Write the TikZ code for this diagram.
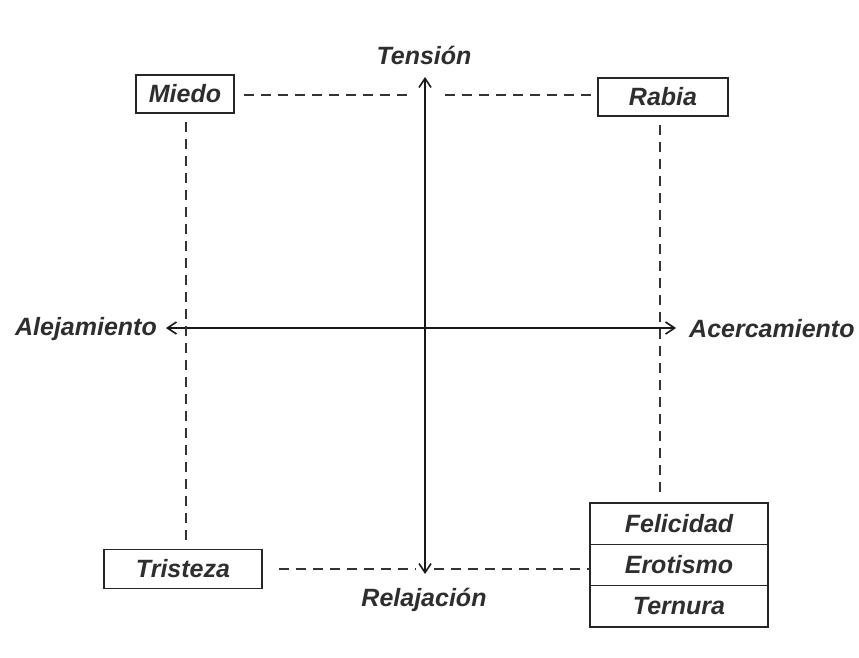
\documentclass[tikz,border=0pt]{standalone}
\usepackage{fontspec}
\setmainfont{Liberation Sans}
\usetikzlibrary{arrows.meta}
\tikzset{
  lbl/.style={font=\fontsize{25}{29}\selectfont\bfseries\itshape, text=black!82, inner sep=0pt},
  emobox/.style={lbl, draw=black!85, line width=1.6pt, inner sep=0pt, minimum height=38pt},
  stackrow/.style={emobox, outer sep=0pt, minimum width=178pt, minimum height=41.3pt},
  dline/.style={draw=black!80, line width=1.3pt, dash pattern=on 10pt off 7pt},
  axis/.style={draw=black!90, line width=1.5pt, {Straight Barb[length=9pt,width=12pt,line width=1.6pt]}-{Straight Barb[length=9pt,width=12pt,line width=1.6pt]}}
}
\begin{document}
\begin{tikzpicture}[x=1pt,y=-1pt]
\useasboundingbox (0,0) rectangle (859,658);
% boxes
\node[emobox, minimum width=98pt] (miedo) at (185,94) {Miedo};
\node[emobox, minimum width=130pt] (rabia) at (663,97) {Rabia};
\node[emobox, minimum width=158pt, minimum height=39pt] (tristeza) at (183,569) {Tristeza};
\node[stackrow] (felicidad) at (679,523.7) {Felicidad};
\node[stackrow, anchor=north] (erotismo) at (felicidad.south) {Erotismo};
\node[stackrow, anchor=north] (ternura) at (erotismo.south) {Ternura};
% axis labels
\node[lbl] (tension) at (424,55) {Tensión};
\node[lbl] (relajacion) at (424,600) {Relajación};
\node[lbl, anchor=east] (alej) at (157,329) {Alejamiento};
\node[lbl, anchor=west] (acerc) at (689,329) {Acercamiento};
% axes
\coordinate (vtop) at (425,77);
\coordinate (vbot) at (425,574);
\coordinate (hleft) at (166,328);
\coordinate (hright) at (676,328);
\draw[axis] (vtop) -- (vbot);
\draw[axis] (hleft) -- (hright);
% dashed connections
\coordinate (g1) at (410,95);
\coordinate (g2) at (445,95);
\coordinate (g3) at (416,569);
\coordinate (g4) at (434,569);
\draw[dline, shorten <=9pt] (miedo.east |- g1) -- (g1);
\draw[dline, shorten >=6pt] (g2) -- (rabia.west |- g2);
\draw[dline, shorten <=16pt] (tristeza.east) -- (g3);
\draw[dline] (g4) -- (erotismo.west |- g4);
\coordinate (lt) at (186,113);
\coordinate (lb) at (186,549);
\draw[dline, shorten <=9pt, shorten >=9pt] (lt) -- (lb);
\coordinate (rt) at (660,116);
\coordinate (rb) at (660,503);
\draw[dline, shorten <=9pt, shorten >=5pt] (rt) -- (rb);
\end{tikzpicture}
\end{document}
